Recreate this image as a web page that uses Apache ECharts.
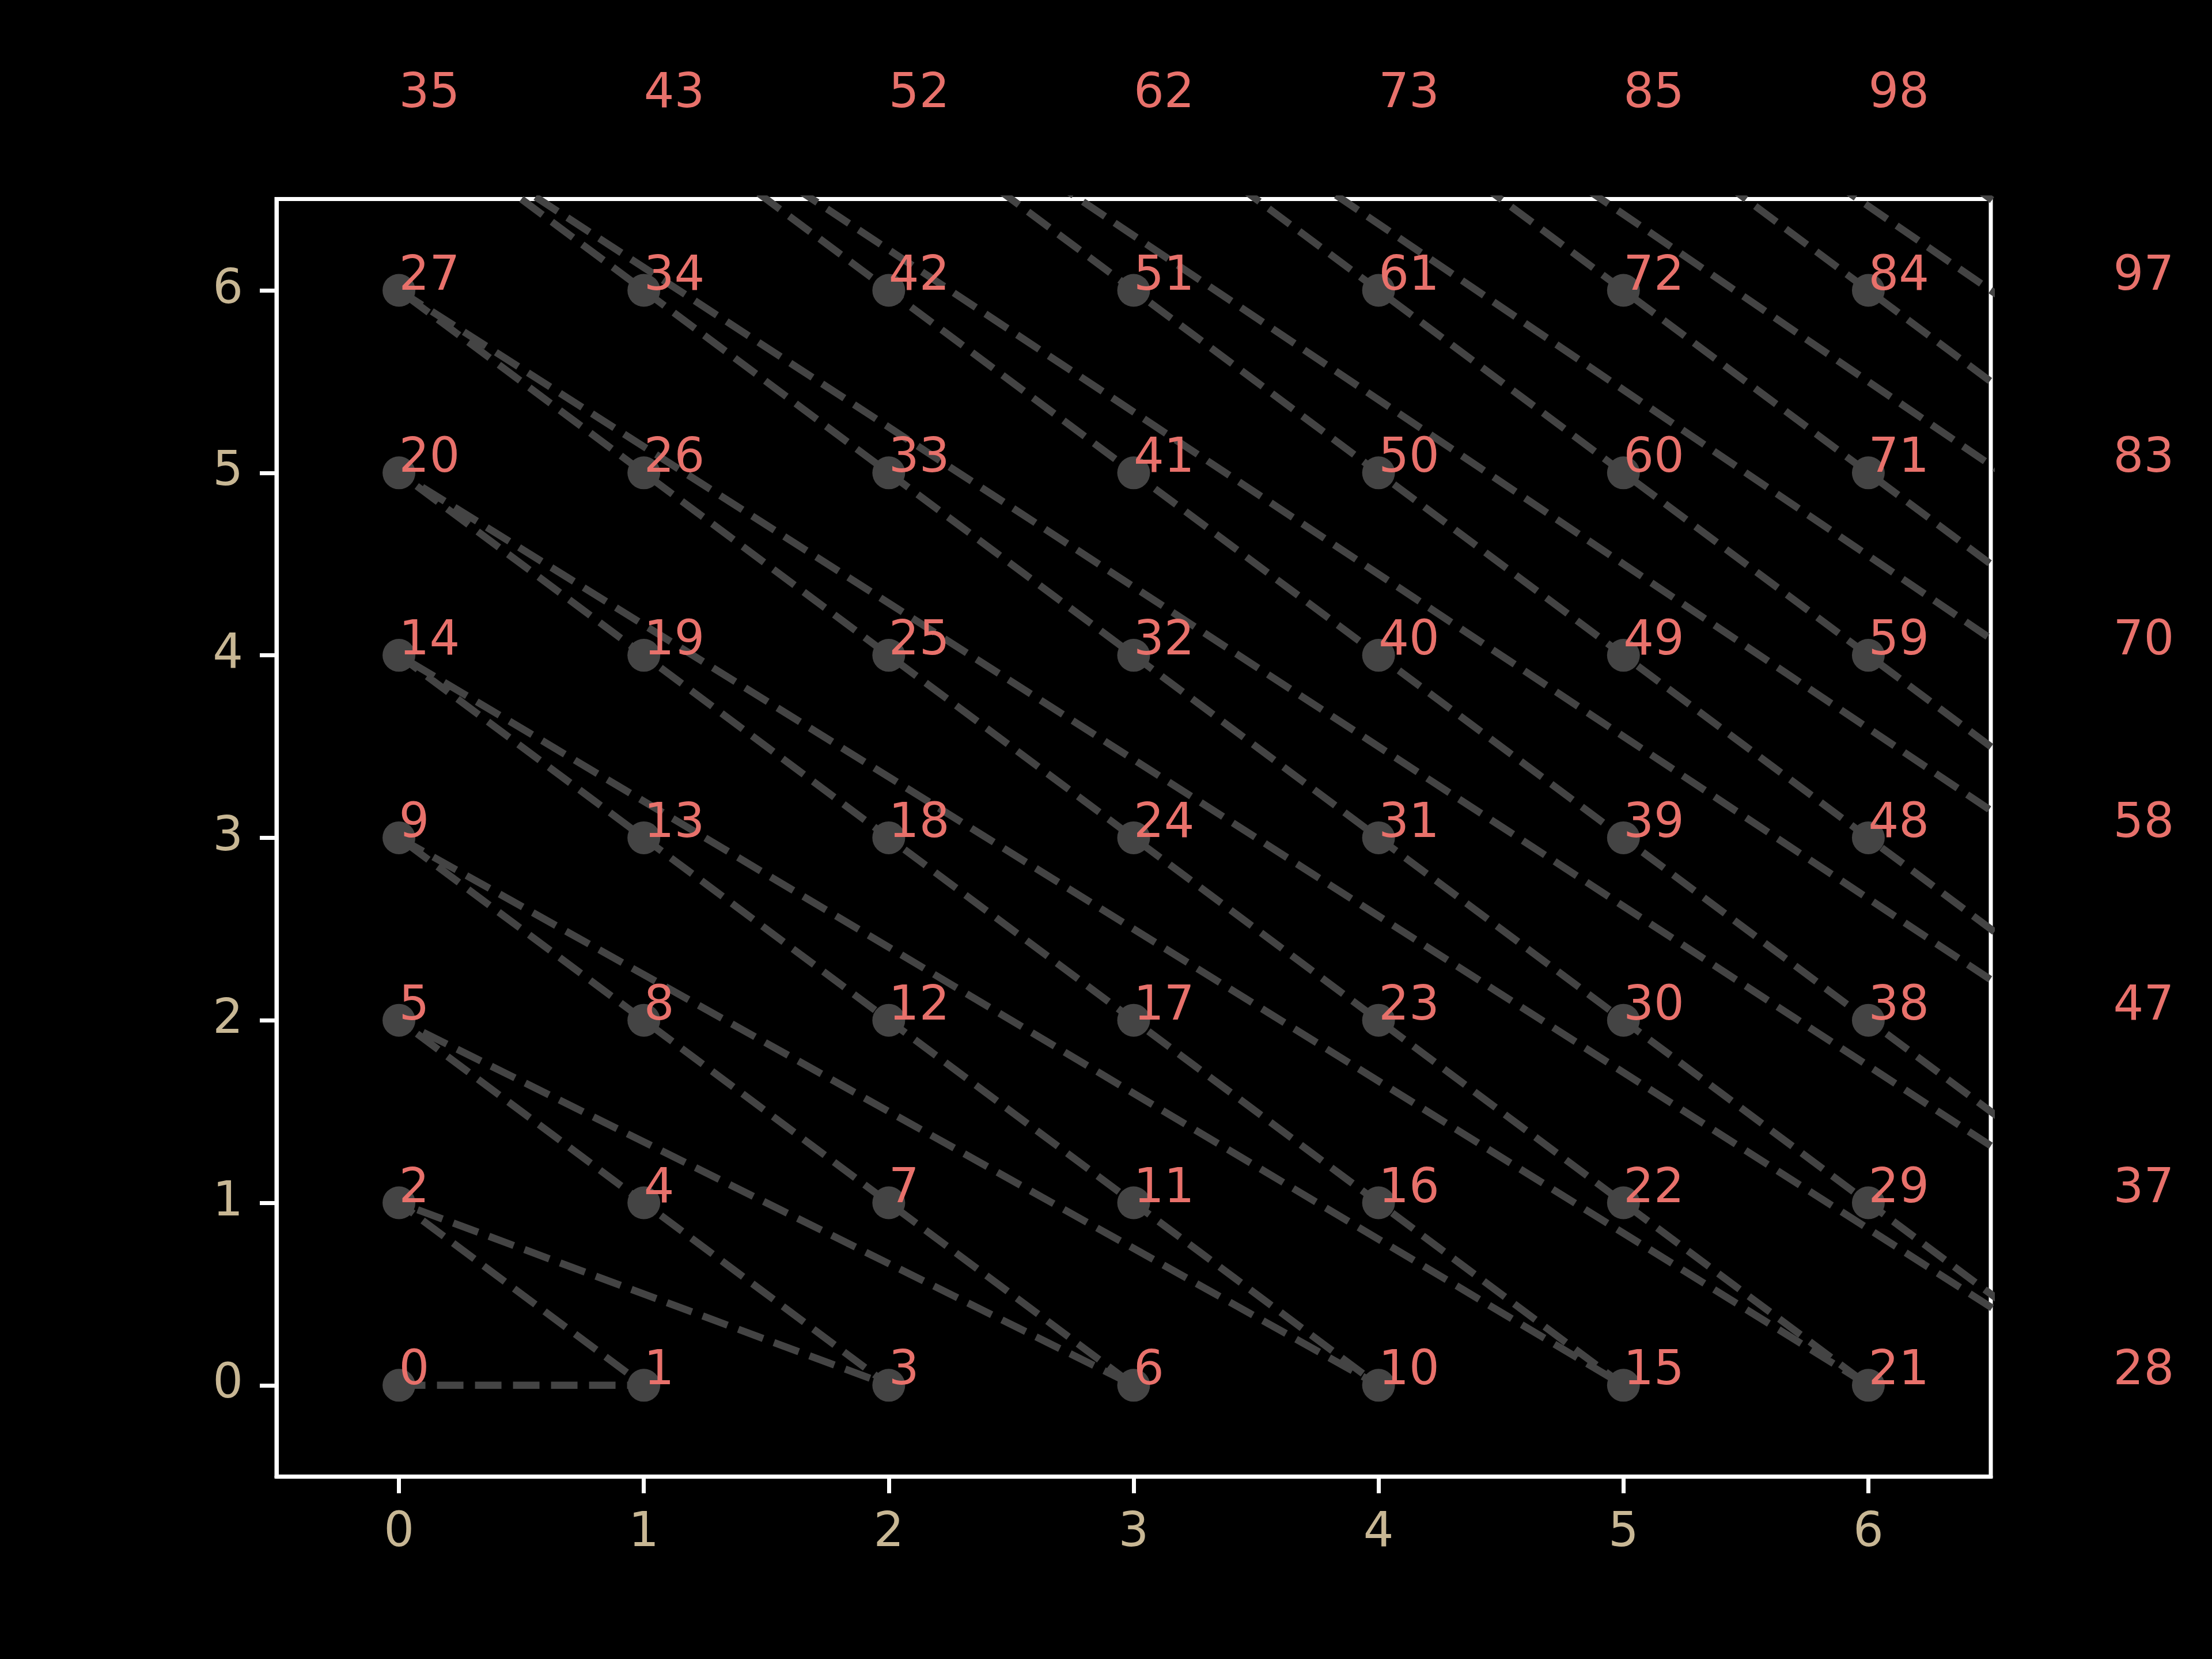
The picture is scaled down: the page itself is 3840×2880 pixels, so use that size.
<!DOCTYPE html>
<html>
<head>
<meta charset="utf-8">
<script src="https://cdn.jsdelivr.net/npm/echarts@6/dist/echarts.min.js"></script>
<style>
html,body{margin:0;padding:0;background:#000;}
#chart{width:3840px;height:2880px;}
</style>
</head>
<body>
<div id="chart"></div>
<script>
// Enumeration order of the grid points (index = position in these arrays)
var xs = [0,
  1,0,
  2,1,0,
  3,2,1,0,
  4,3,2,1,0,
  5,4,3,2,1,0,
  6,5,4,3,2,1,0,
  7,6,5,4,3,2,1,0,
  8,7,6,5,4,3,2,1,0,
  9,8,7,6,5,4,3,2,1,0,
  10,9,8,7,6,5,4,3,2,1,0,
  11,10,9,8,7,6,5,4,3,2,1,0,
  12,11,10,9,8,7,6,5,4,3,2,1,0,
  13,12,11,10,9,8,7,6,5];
var ys = [0,
  0,1,
  0,1,2,
  0,1,2,3,
  0,1,2,3,4,
  0,1,2,3,4,5,
  0,1,2,3,4,5,6,
  0,1,2,3,4,5,6,7,
  0,1,2,3,4,5,6,7,8,
  0,1,2,3,4,5,6,7,8,9,
  0,1,2,3,4,5,6,7,8,9,10,
  0,1,2,3,4,5,6,7,8,9,10,11,
  0,1,2,3,4,5,6,7,8,9,10,11,12,
  0,1,2,3,4,5,6,7,8];
var xTicks = [0,1,2,3,4,5,6];
var yTicks = [0,1,2,3,4,5,6];

var pts = xs.map(function(x,i){ return [x, ys[i]]; });

var chart = echarts.init(document.getElementById('chart'), null, {renderer:'canvas'});
var FONT = 'DejaVu Sans';
var tickColor = '#c8b794';
var labelColor = '#e8716b';

chart.setOption({
  backgroundColor: '#000',
  animation: false,
  grid: {
    left: 480, top: 345.6, width: 2976, height: 2217.6,
    show: true, borderColor: '#fff', borderWidth: 7, backgroundColor: '#000',
    containLabel: false
  },
  xAxis: {
    type: 'value', min: -0.5, max: 6.5,
    splitLine: {show: false},
    axisLine: {show: true, onZero: false, lineStyle: {color: '#fff', width: 7}},
    axisTick: {show: true, inside: false, length: 29, customValues: xTicks, lineStyle: {color: '#fff', width: 7}},
    axisLabel: {show: true, customValues: xTicks, margin: 58, color: tickColor, fontSize: 83, fontFamily: FONT}
  },
  yAxis: {
    type: 'value', min: -0.5, max: 6.5,
    splitLine: {show: false},
    axisLine: {show: true, onZero: false, lineStyle: {color: '#fff', width: 7}},
    axisTick: {show: true, inside: false, length: 29, customValues: yTicks, lineStyle: {color: '#fff', width: 7}},
    axisLabel: {show: true, customValues: yTicks, margin: 58, padding: [12, 0, 0, 0], color: tickColor, fontSize: 83, fontFamily: FONT}
  },
  series: [
    {
      type: 'line',
      data: pts,
      clip: true,
      showSymbol: true,
      symbol: 'circle',
      symbolSize: 57,
      itemStyle: {color: '#444444', opacity: 1},
      lineStyle: {color: '#444444', width: 12.5, type: [46, 20], cap: 'butt'},
      z: 2
    },
    {
      type: 'scatter',
      data: pts,
      clip: false,
      symbol: 'circle',
      symbolSize: 0.01,
      itemStyle: {color: 'rgba(0,0,0,0)', opacity: 1},
      label: {
        show: true,
        position: ['50%', '50%'],
        align: 'left',
        verticalAlign: 'middle',
        offset: [0, -23],
        color: labelColor,
        opacity: 1,
        fontSize: 83,
        fontFamily: FONT,
        formatter: function(p){ return String(p.dataIndex); }
      },
      emphasis: {disabled: true},
      z: 5
    }
  ]
});
</script>
</body>
</html>
